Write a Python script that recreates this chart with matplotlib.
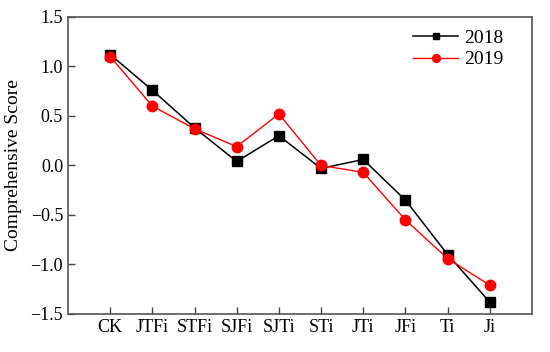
import matplotlib
matplotlib.use("Agg")
import matplotlib.pyplot as plt

categories = ["CK", "JTFi", "STFi", "SJFi", "SJTi", "STi", "JTi", "JFi", "Ti", "Ji"]
score_2018 = [1.12, 0.76, 0.38, 0.04, 0.30, -0.03, 0.06, -0.35, -0.90, -1.38]
score_2019 = [1.10, 0.60, 0.37, 0.19, 0.52, 0.00, -0.07, -0.55, -0.94, -1.21]

plt.rcParams["font.family"] = ["Liberation Serif", "DejaVu Serif"]

fig = plt.figure(figsize=(5.5, 3.52), dpi=100)
ax = fig.add_axes([0.1236, 0.108, 0.8436, 0.844])

x = range(len(categories))
ax.plot(x, score_2018, color="black", marker="s", markersize=6.5, linewidth=1.1, label="2018")
ax.plot(x, score_2019, color="red", marker="o", markersize=7.5, linewidth=1.0, label="2019")

ax.set_xlim(-1, 10)
ax.set_ylim(-1.5, 1.5)
ax.set_xticks(list(x))
ax.set_xticklabels(categories)
ax.set_yticks([-1.5, -1.0, -0.5, 0.0, 0.5, 1.0, 1.5])
ax.set_yticklabels(["\u22121.5", "\u22121.0", "\u22120.5", "0.0", "0.5", "1.0", "1.5"])
ax.tick_params(direction="in", length=5, labelsize=13, color="#444444", width=1)
ax.set_ylabel("Comprehensive Score", fontsize=14, labelpad=6)

for s in ax.spines.values():
    s.set_color("#555555")
    s.set_linewidth(1.2)

ax.legend(loc="upper left", bbox_to_anchor=(0.744, 0.958), frameon=False, fontsize=14,
          borderaxespad=0, borderpad=0, handlelength=2.3, handletextpad=0.3,
          labelspacing=0.2, markerscale=0.75)

fig.savefig("out.png", dpi=100)
